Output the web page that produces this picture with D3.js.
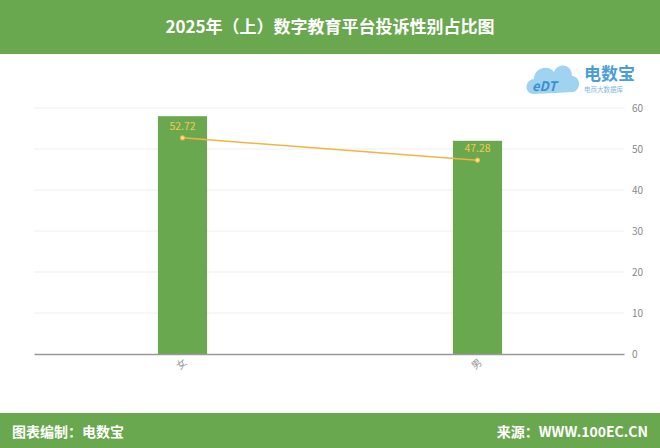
<!DOCTYPE html>
<html>
<head>
<meta charset="utf-8">
<script src="https://cdn.jsdelivr.net/npm/d3@7"></script>
<style>
  body { margin: 0; background: #fff; }
  text { font-family: "Noto Sans CJK SC", "Noto Sans", sans-serif; }
</style>
</head>
<body>
<div id="viz"></div>
<script>
const categories = ["女", "男"]
const barValues = [58, 52]
const lineValues = [52.72, 47.28]
const yTicks = [0, 10, 20, 30, 40, 50, 60]

const width = 660
const height = 448
const green = "#6aa84f"
const margin = {top: 108, right: 36, bottom: 94, left: 34}

const svg = d3.select("#viz").append("svg").attr("width", width).attr("height", height)

// header + footer bands
svg.append("rect").attr("x", 0).attr("y", 0).attr("width", width).attr("height", 54).attr("fill", green)
svg.append("text").attr("x", width / 2).attr("y", 33).attr("text-anchor", "middle")
    .attr("fill", "#fff").attr("font-size", 17).attr("font-weight", "bold")
    .text("2025年（上）数字教育平台投诉性别占比图")

svg.append("rect").attr("x", 0).attr("y", 413).attr("width", width).attr("height", 35).attr("fill", green)
svg.append("text").attr("x", 12).attr("y", 437).attr("fill", "#fff")
    .attr("font-size", 14).attr("font-weight", "bold").text("图表编制：电数宝")
svg.append("text").attr("x", 648).attr("y", 437).attr("text-anchor", "end").attr("fill", "#fff")
    .attr("font-size", 14).attr("font-weight", "bold").text("来源：WWW.100EC.CN")

// logo
const logo = svg.append("g").attr("transform", "translate(526,58)")
logo.append("path")
    .attr("d", "M8,36 C-2,36 -2,22 8,21 C8,10 22,6 28,14 C32,4 46,6 46,18 C54,18 56,30 48,34 Z")
    .attr("fill", "#9fd3ef")
logo.append("text").attr("x", 6).attr("y", 33).attr("font-size", 13).attr("font-style", "italic")
    .attr("font-weight", "bold").attr("fill", "#3a8fd0").attr("font-family", "DejaVu Serif").text("eDT")
logo.append("text").attr("x", 58).attr("y", 22).attr("font-size", 17).attr("fill", "#4a9ed8")
    .attr("font-weight", "bold").text("电数宝")
logo.append("text").attr("x", 58).attr("y", 34).attr("font-size", 6.5).attr("fill", "#7fb7de")
    .text("电商大数据库")

const x = d3.scaleBand()
    .domain(categories)
    .range([margin.left, width - margin.right])

const y = d3.scaleLinear()
    .domain([0, 60])
    .range([height - margin.bottom, margin.top])

// grid lines
svg.append("g").selectAll("line")
    .data(yTicks.filter(d => d > 0))
    .join("line")
    .attr("x1", margin.left).attr("x2", width - margin.right)
    .attr("y1", d => y(d)).attr("y2", d => y(d))
    .attr("stroke", "#eeeeee").attr("stroke-width", 1)

// right axis
const yAxis = d3.axisRight(y).tickValues(yTicks).tickSize(0).tickPadding(8)
const gy = svg.append("g").attr("transform", `translate(${width - margin.right},0)`).call(yAxis)
gy.select(".domain").remove()
gy.selectAll("text").attr("fill", "#888").attr("font-size", 10).attr("font-family", "Open Sans, sans-serif")

// bars
const barW = x.bandwidth() / 6
svg.append("g").selectAll("rect")
    .data(categories)
    .join("rect")
    .attr("x", d => x(d) + x.bandwidth() / 2 - barW / 2 + 1)
    .attr("y", (d, i) => y(barValues[i]))
    .attr("width", barW)
    .attr("height", (d, i) => y(0) - y(barValues[i]))
    .attr("fill", green)

// baseline
const xAxis = d3.axisBottom(x).tickSize(0)
const gx = svg.append("g").attr("transform", `translate(0,${y(0)})`).call(xAxis)
gx.select(".domain").attr("stroke", "#999").attr("stroke-width", 1.5)
gx.selectAll("text").attr("fill", "#999").attr("font-size", 10)
    .attr("y", 0).attr("dy", "0.35em").attr("text-anchor", "middle")
    .attr("transform", "translate(0,10) rotate(-40)")

// line
const cx = d => x(d) + x.bandwidth() / 2 + 1
const line = d3.line()
    .x((d, i) => cx(categories[i]))
    .y(d => y(d))
svg.append("path").datum(lineValues)
    .attr("d", line)
    .attr("fill", "none").attr("stroke", "#f5b342").attr("stroke-width", 1.5)

svg.append("g").selectAll("circle")
    .data(lineValues)
    .join("circle")
    .attr("cx", (d, i) => cx(categories[i]))
    .attr("cy", d => y(d))
    .attr("r", 2.2)
    .attr("fill", "#fde08a").attr("stroke", "#f5b342").attr("stroke-width", 1)

svg.append("g").selectAll("text")
    .data(lineValues)
    .join("text")
    .attr("x", (d, i) => cx(categories[i]))
    .attr("y", d => y(d) - 8)
    .attr("text-anchor", "middle")
    .attr("fill", "#f2c94c").attr("font-size", 10.5).attr("font-family", "Open Sans, sans-serif")
    .text(d => d.toFixed(2))
</script>
</body>
</html>
